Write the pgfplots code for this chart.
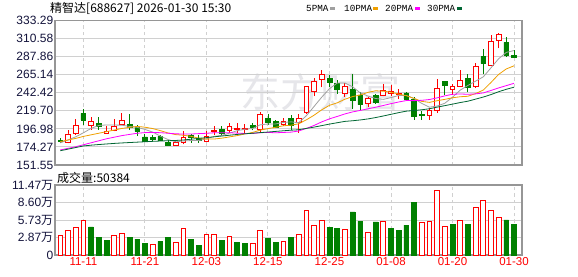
\documentclass[border=0pt]{standalone}
\usepackage{fontspec}
\setmainfont{Liberation Sans}
\newfontfamily\cjk{Noto Sans CJK SC}
\newfontfamily\monof{Liberation Mono}
\usepackage{pgfplots}
\usepackage{pgfplotstable}
\pgfplotsset{compat=1.18}

\definecolor{cred}{RGB}{255,0,0}
\definecolor{cgreen}{RGB}{0,128,0}
\definecolor{ma5}{RGB}{160,160,160}
\definecolor{ma10}{RGB}{240,160,0}
\definecolor{ma20}{RGB}{255,0,255}
\definecolor{ma30}{RGB}{0,102,51}
\definecolor{gridc}{RGB}{208,208,208}
\definecolor{framec}{RGB}{150,150,150}
\definecolor{tickc}{RGB}{20,20,60}
\definecolor{wm}{RGB}{230,230,234}

\pgfplotstableread{
i o h l c
1 180.4 196.0 178.8 190.6
2 191.0 209.1 189.8 201.3
4 201.3 211.5 196.0 206.2
6 191.9 200.1 191.0 193.9
7 194.7 209.5 193.9 200.5
8 202.1 216.4 201.3 207.4
15 176.7 182.5 175.5 179.6
16 179.6 193.9 177.5 186.0
19 181.6 193.9 180.8 187.8
20 193.5 200.1 189.8 195.1
22 195.1 204.2 192.0 200.5
23 196.8 204.2 191.9 198.0
24 196.5 203.0 190.6 197.5
26 195.8 218.5 192.0 215.5
29 202.0 210.5 200.0 207.0
31 205.4 215.5 192.0 210.3
32 217.5 251.5 216.0 250.0
33 244.3 261.5 238.1 256.5
34 259.4 271.6 249.2 265.5
37 241.8 254.5 237.3 250.4
40 229.0 237.5 225.0 234.8
42 239.7 253.0 238.0 245.0
43 241.0 252.0 238.0 243.5
44 240.0 247.0 234.0 241.0
48 213.6 223.3 208.7 219.7
49 220.0 260.0 217.3 248.0
51 246.7 254.0 239.0 250.4
52 250.4 271.6 249.2 258.2
54 250.0 279.9 248.3 275.0
56 277.2 314.6 275.5 307.3
57 308.5 318.0 298.3 315.5
}\redtab

\pgfplotstableread{
i o h l c
0 182.0 185.5 179.0 181.5
3 216.4 221.4 202.1 208.2
5 204.2 212.3 196.0 200.1
9 202.9 215.6 196.0 198.8
10 199.2 202.1 187.8 193.9
11 187.0 190.6 180.8 180.8
12 186.6 189.8 181.6 184.1
13 187.4 189.8 181.6 182.5
14 180.4 182.5 175.5 176.7
17 188.6 190.6 179.6 186.6
18 185.7 189.8 179.6 182.5
21 196.0 200.1 189.8 191.9
25 201.0 205.0 195.0 198.9
27 210.5 216.0 202.0 205.5
28 206.2 208.7 198.0 198.8
30 210.3 214.0 196.0 202.1
35 260.6 265.0 249.2 255.0
36 254.5 258.5 240.9 246.2
38 247.0 265.5 222.0 232.7
39 239.7 243.0 220.4 227.4
41 238.9 241.0 228.0 230.8
45 242.2 243.5 233.0 234.8
46 234.8 236.9 208.7 212.3
47 215.5 219.0 208.7 213.6
50 257.0 257.5 240.0 252.4
53 260.6 265.5 243.0 249.2
55 288.0 297.0 265.5 279.0
58 305.7 312.5 287.3 289.3
59 289.6 295.8 286.4 286.4
}\greentab

\pgfplotstableread{
i m5 m10 m20 m30
0 179.5 181.0 170.5 169.5
1 183.0 183.0 172.5 171.5
2 187.0 185.0 174.5 173.5
3 192.0 187.5 177.0 175.5
4 197.6 189.5 179.5 176.5
5 201.3 191.5 182.0 177.3
6 201.9 193.5 184.5 178.0
7 201.8 195.5 186.5 178.7
8 201.6 197.5 188.5 179.3
9 200.1 198.9 190.0 179.8
10 198.9 200.1 191.5 180.3
11 196.3 199.1 192.3 180.8
12 193.0 197.4 192.5 181.3
13 188.0 194.8 192.2 181.7
14 183.6 191.9 191.5 182.1
15 180.7 189.8 190.8 182.4
16 181.8 189.0 190.5 183.0
17 182.3 187.6 190.5 184.0
18 182.3 185.2 191.0 185.0
19 184.5 184.1 191.45 186.0
20 187.6 184.2 192.1 187.0
21 188.8 185.3 192.2 188.0
22 191.6 186.9 192.2 189.0
23 194.7 188.5 191.6 190.0
24 196.6 190.6 191.2 190.8
25 197.4 192.5 191.2 191.5
26 202.1 195.4 192.2 192.3
27 203.1 197.3 192.5 193.0
28 203.2 199.0 192.1 193.8
29 205.1 200.9 192.5 194.6
30 205.8 201.6 192.9 195.3
31 204.7 203.4 194.3 195.9
32 213.6 208.4 197.6 197.6
33 225.2 214.2 201.3 199.2
34 236.9 221.0 205.8 201.1
35 247.5 226.6 209.6 203.0
36 254.6 229.7 212.6 204.7
37 254.7 234.2 215.75 206.4
38 250.0 237.6 218.3 207.2
39 242.3 239.6 220.2 208.2
40 238.3 242.9 222.2 209.5
41 235.2 244.9 224.2 211.2
42 234.1 244.4 226.4 213.2
43 236.3 243.1 228.7 215.3
44 239.0 240.7 230.8 217.4
45 239.0 238.7 232.6 219.3
46 235.3 235.3 232.5 220.1
47 229.0 231.6 232.9 221.0
48 224.3 230.3 233.9 222.3
49 225.7 232.4 236.0 224.3
50 229.2 234.1 238.5 226.2
51 236.8 236.1 240.5 228.1
52 245.7 237.4 240.9 230.1
53 251.6 238.0 240.5 231.8
54 257.0 241.4 241.0 234.4
55 262.4 245.8 242.2 237.0
56 273.7 255.3 245.3 240.1
57 285.2 265.5 248.5 243.7
58 293.2 272.4 251.4 246.8
59 295.5 276.3 254.3 249.4
}\matab

\pgfplotstableread{
i v
0 3.21
1 4.05
2 4.56
3 5.63
7 3.21
8 3.55
12 1.74
15 2.08
16 4.39
19 3.43
20 3.43
22 3.04
25 1.91
26 4.05
29 2.25
31 3.42
32 7.23
33 4.91
34 5.74
37 4.19
40 3.75
42 5.57
47 5.41
48 5.57
49 10.54
50 4.75
52 5.74
54 7.73
55 8.89
56 7.23
57 6.24
}\volred

\pgfplotstableread{
i v
4 4.61
5 2.93
6 2.42
9 2.93
10 2.59
11 1.91
13 2.25
14 2.93
17 2.59
18 1.58
21 2.42
23 2.08
24 1.91
27 2.76
28 2.08
30 2.93
35 4.58
36 4.42
38 7.07
39 5.57
41 5.41
43 4.42
44 4.08
45 4.91
46 8.56
51 5.08
53 5.08
58 5.74
59 5.04
}\volgreen

\pgfplotsset{
  basex/.style={scale only axis, width=467pt, xmin=-0.69, xmax=60.04},
  price/.style={basex, height=144.5pt, ymin=151.55, ymax=333.29,
    at={(55pt,-165pt)}, anchor=south west},
  vol/.style={basex, height=70pt, ymin=0, ymax=11.47,
    at={(55pt,-255pt)}, anchor=south west},
  framed/.style={axis line style={framec, line width=1.3pt},
    xmajorgrids, ymajorgrids,
    x grid style={gridc, dash pattern=on 3.5pt off 3pt, line width=0.9pt},
    y grid style={gridc, line width=0.9pt},
    major tick length=0pt,
    yticklabel style={font=\fontsize{12}{12}\selectfont, text=tickc, inner sep=1.6pt},
    xtick={3,11,...,59}},
  wick/.style={draw=none, mark=none, error bars/.cd, y dir=plus, y explicit, error mark=none,
    error bar style={draw=#1, line width=0.8pt, solid}},
}

\begin{document}
\begin{tikzpicture}
\path[use as bounding box] (0pt,0pt) rectangle (578pt,-276pt);
\fill[white] (0pt,0pt) rectangle (578pt,-276pt);

% watermark
\node[text=wm, inner sep=0pt] at (320pt,-92pt) {\cjk\fontsize{40}{40}\selectfont 东方财富};

% title and legend
\node[anchor=west, inner sep=0pt] at (50pt,-8.5pt) {\cjk\fontsize{12}{12}\selectfont 精智达[688627] 2026-01-30 15:30};
\node[anchor=west, inner sep=0pt] at (306pt,-8.5pt) {\monof\fontsize{9.3}{9.3}\selectfont 5PMA};
\fill[ma5] (330pt,-7pt) rectangle (335pt,-10pt);
\node[anchor=west, inner sep=0pt] at (344pt,-8.5pt) {\monof\fontsize{9.3}{9.3}\selectfont 10PMA};
\fill[ma10] (373pt,-7pt) rectangle (378pt,-10pt);
\node[anchor=west, inner sep=0pt] at (385pt,-8.5pt) {\monof\fontsize{9.3}{9.3}\selectfont 20PMA};
\fill[ma20] (415pt,-7pt) rectangle (420pt,-10pt);
\node[anchor=west, inner sep=0pt] at (427pt,-8.5pt) {\monof\fontsize{9.3}{9.3}\selectfont 30PMA};
\fill[ma30] (457pt,-7pt) rectangle (462pt,-10pt);

% price frame, grid and wicks
\begin{axis}[price, framed, xticklabels={},
  ytick={151.55,174.2675,196.985,219.7025,242.42,265.1375,287.855,310.5725,333.29},
  yticklabels={151.55,174.27,196.98,219.70,242.42,265.14,287.86,310.58,333.29}]
\addplot[wick=cred] table[x=i, y=l, y error expr=\thisrow{h}-\thisrow{l}] {\redtab};
\addplot[wick=cgreen] table[x=i, y=l, y error expr=\thisrow{h}-\thisrow{l}] {\greentab};
\end{axis}

% red bodies
\begin{axis}[price, hide axis, ybar stacked, bar width=0.62]
\addplot[draw=none, fill=none] table[x=i, y expr={min(\thisrow{o},\thisrow{c})}] {\redtab};
\addplot[draw=cred, fill=white, line width=0.8pt] table[x=i, y expr={max(abs(\thisrow{c}-\thisrow{o}),0.4)}] {\redtab};
\end{axis}

% green bodies
\begin{axis}[price, hide axis, ybar stacked, bar width=0.62]
\addplot[draw=none, fill=none] table[x=i, y expr={min(\thisrow{o},\thisrow{c})}] {\greentab};
\addplot[draw=cgreen, fill=cgreen, line width=0.6pt] table[x=i, y expr={max(abs(\thisrow{c}-\thisrow{o}),0.4)}] {\greentab};
\end{axis}

% moving averages
\begin{axis}[price, hide axis]
\addplot[ma5, line width=0.8pt, mark=none] table[x=i, y=m5] {\matab};
\addplot[ma10, line width=0.8pt, mark=none] table[x=i, y=m10] {\matab};
\addplot[ma20, line width=0.8pt, mark=none] table[x=i, y=m20] {\matab};
\addplot[ma30, line width=0.8pt, mark=none] table[x=i, y=m30] {\matab};
\end{axis}

% volume
\node[anchor=west, inner sep=0pt] at (57pt,-178pt) {\cjk\fontsize{12}{12}\selectfont 成交量:50384};
\begin{axis}[vol, framed, ybar, bar width=0.62,
  xticklabels={11-11,11-21,12-03,12-15,12-25,01-08,01-20,01-30},
  xticklabel style={text=cred, font=\fontsize{11.5}{11.5}\selectfont, inner sep=2pt},
  ytick={0,2.8675,5.735,8.6025,11.47},
  yticklabels={0,2.87{\cjk 万},5.73{\cjk 万},8.60{\cjk 万},11.47{\cjk 万}}]
\addplot[bar shift=0pt, draw=cred, fill=white, line width=0.8pt] table[x=i, y=v] {\volred};
\addplot[bar shift=0pt, draw=cgreen, fill=cgreen, line width=0.6pt] table[x=i, y=v] {\volgreen};
\end{axis}
\end{tikzpicture}
\end{document}
